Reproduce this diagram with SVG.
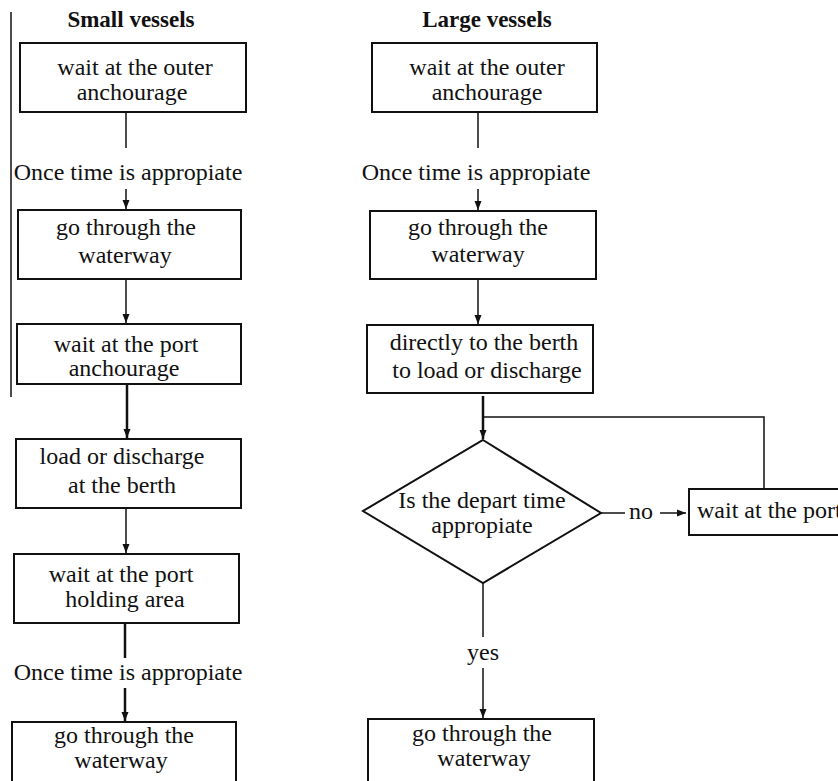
<svg xmlns="http://www.w3.org/2000/svg" width="838" height="781" viewBox="0 0 838 781">
<defs>
<marker id="arr" markerUnits="userSpaceOnUse" markerWidth="10" markerHeight="8" refX="9" refY="4" orient="auto">
<path d="M0,0.5 L9,4 L0,7.5 Z" fill="#111"/>
</marker>
<style>
.box{fill:#fff;stroke:#111;stroke-width:2}
.t{font-family:"Liberation Serif","Times New Roman",serif;font-size:24px;fill:#111;text-anchor:middle}
.h{font-family:"Liberation Serif","Times New Roman",serif;font-size:23px;font-weight:bold;fill:#111;text-anchor:middle}
.c{fill:none;stroke:#111;stroke-width:1.5}
.ck{fill:none;stroke:#111;stroke-width:2.5}
</style>
</defs>
<rect width="838" height="781" fill="#fff"/>
<line x1="11" y1="12" x2="11" y2="397" stroke="#111" stroke-width="1.5"/>
<text class="h" x="131" y="27">Small vessels</text>
<text class="h" x="487" y="27">Large vessels</text>

<g id="connectors">
<line class="c" x1="126" y1="112" x2="126" y2="148"/>
<line class="c" x1="126" y1="189" x2="126" y2="209" marker-end="url(#arr)"/>
<line class="c" x1="126" y1="279" x2="126" y2="323" marker-end="url(#arr)"/>
<line class="ck" x1="127" y1="384" x2="127" y2="438" marker-end="url(#arr)"/>
<line class="c" x1="126" y1="508" x2="126" y2="553" marker-end="url(#arr)"/>
<line class="ck" x1="125" y1="623" x2="125" y2="658"/>
<line class="ck" x1="125" y1="688" x2="125" y2="721" marker-end="url(#arr)"/>
<text class="t" x="128" y="180">Once time is appropiate</text>
<text class="t" x="128" y="680">Once time is appropiate</text>

<line class="c" x1="478" y1="112" x2="478" y2="148"/>
<line class="c" x1="478" y1="189" x2="478" y2="210" marker-end="url(#arr)"/>
<line class="c" x1="478" y1="279" x2="478" y2="324" marker-end="url(#arr)"/>
<line class="ck" x1="483" y1="396" x2="483" y2="439" marker-end="url(#arr)"/>
<polyline class="c" points="483,417 764,417 764,489"/>
<line class="c" x1="601" y1="513" x2="625" y2="513"/>
<line class="c" x1="660" y1="513" x2="686" y2="513" marker-end="url(#arr)"/>
<text class="t" x="641" y="519">no</text>
<line class="c" x1="483" y1="583" x2="483" y2="637"/>
<line class="c" x1="483" y1="668" x2="483" y2="718" marker-end="url(#arr)"/>
<text class="t" x="476" y="180">Once time is appropiate</text>
<text class="t" x="483" y="660">yes</text>
</g>

<g id="s1"><rect class="box" x="20" y="43" width="226" height="69"/>
<text class="t" x="135" y="75">wait at the outer</text><text class="t" x="132" y="100">anchourage</text></g>
<g id="s2"><rect class="box" x="18" y="210" width="223" height="69"/>
<text class="t" x="126" y="235">go through the</text><text class="t" x="125" y="263">waterway</text></g>
<g id="s3"><rect class="box" x="17" y="324" width="224" height="60"/>
<text class="t" x="126" y="352">wait at the port</text><text class="t" x="124" y="376">anchourage</text></g>
<g id="s4"><rect class="box" x="16" y="439" width="225" height="69"/>
<text class="t" x="122" y="464">load or discharge</text><text class="t" x="122" y="493">at the berth</text></g>
<g id="s5"><rect class="box" x="14" y="554" width="225" height="69"/>
<text class="t" x="121" y="582">wait at the port</text><text class="t" x="125" y="607">holding area</text></g>
<g id="s6"><rect class="box" x="12" y="722" width="224" height="70"/>
<text class="t" x="124" y="743">go through the</text><text class="t" x="121" y="768">waterway</text></g>

<g id="l1"><rect class="box" x="372" y="43" width="225" height="69"/>
<text class="t" x="487" y="75">wait at the outer</text><text class="t" x="487" y="100">anchourage</text></g>
<g id="l2"><rect class="box" x="370" y="211" width="226" height="68"/>
<text class="t" x="478" y="235">go through the</text><text class="t" x="478" y="262">waterway</text></g>
<g id="l3"><rect class="box" x="367" y="325" width="226" height="68"/>
<text class="t" x="484" y="350">directly to the berth</text><text class="t" x="487" y="378">to load or discharge</text></g>
<g id="l4"><polygon class="box" points="483,440 601,513 483,583 363,511"/>
<text class="t" x="482" y="508">Is the depart time</text><text class="t" x="482" y="533">appropiate</text></g>
<g id="l5"><rect class="box" x="689" y="489" width="160" height="46"/>
<text class="t" x="697" y="518" style="text-anchor:start">wait at the port</text></g>
<g id="l6"><rect class="box" x="368" y="719" width="226" height="73"/>
<text class="t" x="482" y="741">go through the</text><text class="t" x="484" y="766">waterway</text></g>
</svg>
